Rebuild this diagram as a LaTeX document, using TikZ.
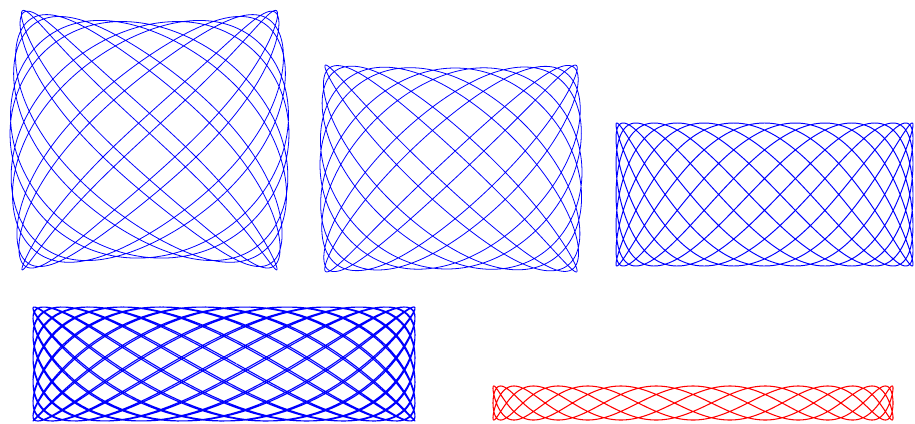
\documentclass[tikz,border=0pt]{standalone}
\begin{document}
\begin{tikzpicture}[x=0.02cm,y=-0.02cm]
  \tikzset{orbit/.style={line width=0.45pt,line join=round,samples=2000,variable=\t,domain=0:360}}
  \useasboundingbox (0,0) rectangle (915,423);
  \draw[orbit,blue] plot ({149.5+(127.5+12*(1-(sin(12*\t))^2))*sin(11*\t+3)},{140+(130-12*(1-(sin(11*\t+3))^2))*sin(12*\t)});
  \draw[orbit,blue] plot ({451+(126+5*(1-(sin(11*\t))^2))*sin(9*\t+10)},{168.5+(103.5-3*(1-(sin(9*\t+10))^2))*sin(11*\t)});
  \draw[orbit,blue,line width=0.55pt] plot ({764.5+148.5*sin(7*\t+6)},{194.5+71.5*sin(15*\t)});
  \draw[orbit,blue,line width=0.6pt] plot ({224+191*sin(15*\t+3.8)},{364+57*sin(28*\t)});
  \draw[orbit,red,line width=0.6pt] plot ({693+200*sin(3*\t+5.3)},{403+17*sin(17*\t)});
\end{tikzpicture}
\end{document}
